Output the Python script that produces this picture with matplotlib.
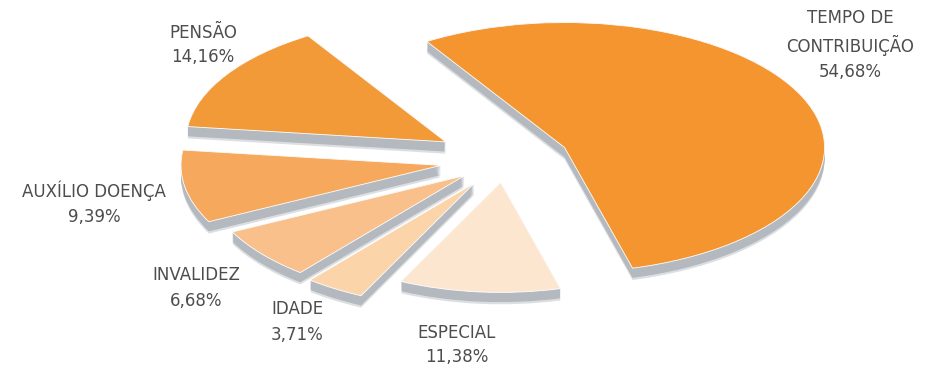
import matplotlib
matplotlib.use('Agg')
import matplotlib.pyplot as plt
import numpy as np

# share of benefits by type (%)
categories = ['TEMPO DE\nCONTRIBUIÇÃO', 'ESPECIAL', 'IDADE', 'INVALIDEZ',
              'AUXÍLIO DOENÇA', 'PENSÃO']
values = [54.68, 11.38, 3.71, 6.68, 9.39, 14.16]

# styling
colors = ['#f5952f', '#fde6cf', '#fbd4aa', '#f9c08b', '#f6a85c', '#f39a38']
explode = [0.25, 0.18, 0.22, 0.20, 0.25, 0.27]
radii = [1.0, 0.88, 1.0, 1.0, 1.0, 1.0]   # front slice looks shorter in the original
side_grey = '#b4b9bf'
rim_grey = '#dcdfe2'
# label centres in pixels (x, y from top)
label_pos = [(850, 45), (457, 345), (297, 322), (196, 288), (94, 203), (203, 45)]

W, H = 931, 369
fig = plt.figure(figsize=(W / 100, H / 100), dpi=100)
ax = fig.add_axes([0, 0, 1, 1])


def draw_pie(cols, dy, **wp):
    ws, _ = ax.pie(values, explode=explode, colors=cols, startangle=122,
                   counterclock=False, center=(0, -dy), wedgeprops=wp)
    for w, r in zip(ws, radii):
        w.set_radius(r)
    return ws


# extruded side: stack of grey copies shifted downwards
depth = 0.095
steps = 12
for i, d in enumerate(np.linspace(depth, 0.0, steps)):
    col = rim_grey if i < 2 else side_grey
    draw_pie([col] * len(values), d, linewidth=0)

# top faces
draw_pie(colors, 0.0, linewidth=0.6, edgecolor='white')

# squash the pie into an ellipse: centre at pixel (505,160), rx=260, ry=125
ax.set_aspect('auto')
cx, cy, rx, ry = 505, 160, 260, 125
ax.set_xlim(-cx / rx, (W - cx) / rx)
ax.set_ylim(-(H - cy) / ry, cy / ry)
ax.axis('off')

for name, v, (px, py) in zip(categories, values, label_pos):
    txt = name + '\n' + ('%.2f%%' % v).replace('.', ',')
    fig.text(px / W, 1 - py / H, txt, ha='center', va='center',
             fontsize=12, color='#4d4d4d', family='DejaVu Sans',
             linespacing=1.5)

fig.savefig('out.png', dpi=100, facecolor='white')
